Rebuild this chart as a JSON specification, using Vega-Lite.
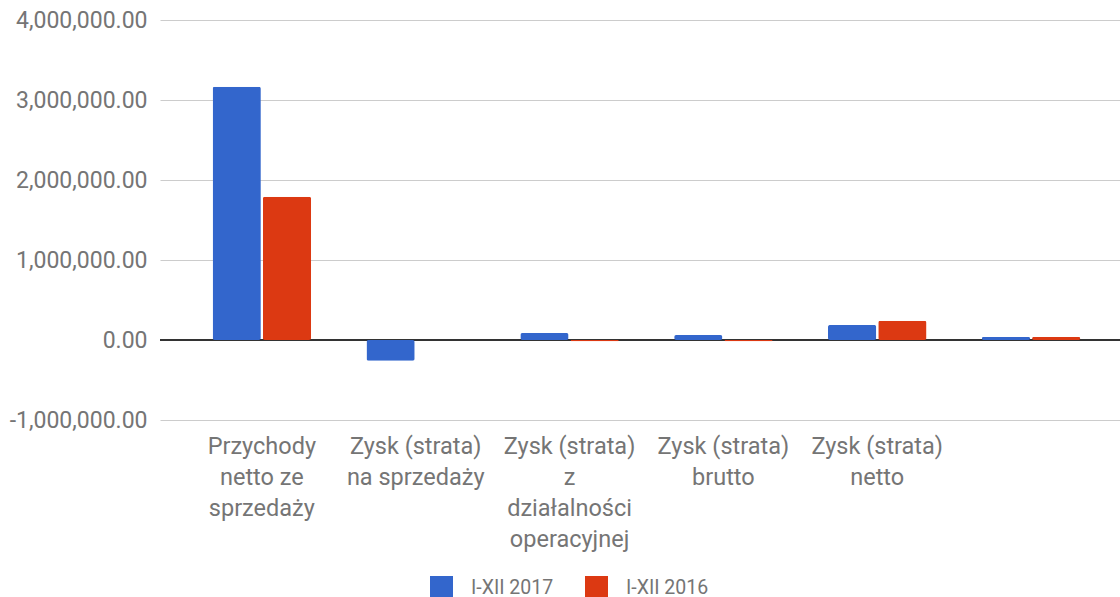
{
  "$schema": "https://vega.github.io/schema/vega-lite/v6.json",
  "width": 960,
  "height": 400,
  "autosize": {"type": "none"},
  "padding": {"left": 160, "top": 20, "right": 0, "bottom": 177},
  "background": "white",
  "config": {
    "font": "Roboto",
    "view": {"stroke": null}
  },
  "data": {
    "values": [
      {"kategoria": "Przychody netto ze sprzedaży", "okres": "I-XII 2017", "wartosc": 3165000},
      {"kategoria": "Przychody netto ze sprzedaży", "okres": "I-XII 2016", "wartosc": 1790000},
      {"kategoria": "Zysk (strata) na sprzedaży", "okres": "I-XII 2017", "wartosc": -260000},
      {"kategoria": "Zysk (strata) na sprzedaży", "okres": "I-XII 2016", "wartosc": 0},
      {"kategoria": "Zysk (strata) z działalności operacyjnej", "okres": "I-XII 2017", "wartosc": 87000},
      {"kategoria": "Zysk (strata) z działalności operacyjnej", "okres": "I-XII 2016", "wartosc": -15000},
      {"kategoria": "Zysk (strata) brutto", "okres": "I-XII 2017", "wartosc": 62000},
      {"kategoria": "Zysk (strata) brutto", "okres": "I-XII 2016", "wartosc": -15000},
      {"kategoria": "Zysk (strata) netto", "okres": "I-XII 2017", "wartosc": 188000},
      {"kategoria": "Zysk (strata) netto", "okres": "I-XII 2016", "wartosc": 240000},
      {"kategoria": "", "okres": "I-XII 2017", "wartosc": 37000},
      {"kategoria": "", "okres": "I-XII 2016", "wartosc": 37000}
    ]
  },
  "layer": [
    {
      "mark": {"type": "rule", "color": "#333333", "strokeWidth": 2},
      "encoding": {
        "y": {
          "datum": 0,
          "type": "quantitative",
          "scale": {"domain": [-1000000, 4000000], "nice": false},
          "axis": {
            "values": [-1000000, 0, 1000000, 2000000, 3000000, 4000000],
            "labelExpr": "replace(format(datum.value, ',.2f'), '\u2212', '-')",
            "title": null,
            "grid": true,
            "domain": false,
            "ticks": false,
            "labelFontSize": 23,
            "labelColor": "#757575",
            "labelPadding": 13,
            "gridColor": "#cccccc",
            "gridWidth": 1
          }
        }
      }
    },
    {
      "mark": {"type": "bar", "cornerRadius": 2},
      "encoding": {
        "x": {
          "field": "kategoria",
          "type": "nominal",
          "sort": null,
          "title": null,
          "scale": {"paddingInner": 0.36, "paddingOuter": 0.3, "align": 0.57},
          "axis": {
            "domain": false,
            "ticks": false,
            "labelAngle": 0,
            "labelFontSize": 23.5,
            "labelColor": "#757575",
            "labelPadding": 14,
            "labelLineHeight": 31,
            "labelBaseline": "top",
            "labelLimit": 200,
            "labelExpr": "datum.value == 'Przychody netto ze sprzedaży' ? ['Przychody', 'netto ze', 'sprzedaży'] : datum.value == 'Zysk (strata) na sprzedaży' ? ['Zysk (strata)', 'na sprzedaży'] : datum.value == 'Zysk (strata) z działalności operacyjnej' ? ['Zysk (strata)', 'z', 'działalności', 'operacyjnej'] : datum.value == 'Zysk (strata) brutto' ? ['Zysk (strata)', 'brutto'] : datum.value == 'Zysk (strata) netto' ? ['Zysk (strata)', 'netto'] : ''"
          }
        },
        "xOffset": {
          "field": "okres",
          "type": "nominal",
          "sort": ["I-XII 2017", "I-XII 2016"],
          "scale": {"paddingInner": 0.04}
        },
        "y": {
          "field": "wartosc",
          "type": "quantitative",
          "title": null,
          "scale": {"domain": [-1000000, 4000000], "nice": false},
          "axis": {
            "values": [-1000000, 0, 1000000, 2000000, 3000000, 4000000],
            "labelExpr": "replace(format(datum.value, ',.2f'), '\u2212', '-')",
            "grid": true,
            "domain": false,
            "ticks": false,
            "labelFontSize": 23,
            "labelColor": "#757575",
            "labelPadding": 13,
            "gridColor": "#cccccc",
            "gridWidth": 1
          }
        },
        "color": {
          "field": "okres",
          "type": "nominal",
          "sort": ["I-XII 2017", "I-XII 2016"],
          "scale": {"domain": ["I-XII 2017", "I-XII 2016"], "range": ["#3366cc", "#dc3912"]},
          "legend": {
            "orient": "none",
            "legendX": 270,
            "legendY": 556,
            "direction": "horizontal",
            "title": null,
            "symbolType": "square",
            "symbolSize": 529,
            "symbolStrokeWidth": 0,
            "symbolOpacity": 1,
            "labelFontSize": 19.5,
            "labelColor": "#757575",
            "columnPadding": 31,
            "labelOffset": 18
          }
        }
      }
    }
  ]
}
